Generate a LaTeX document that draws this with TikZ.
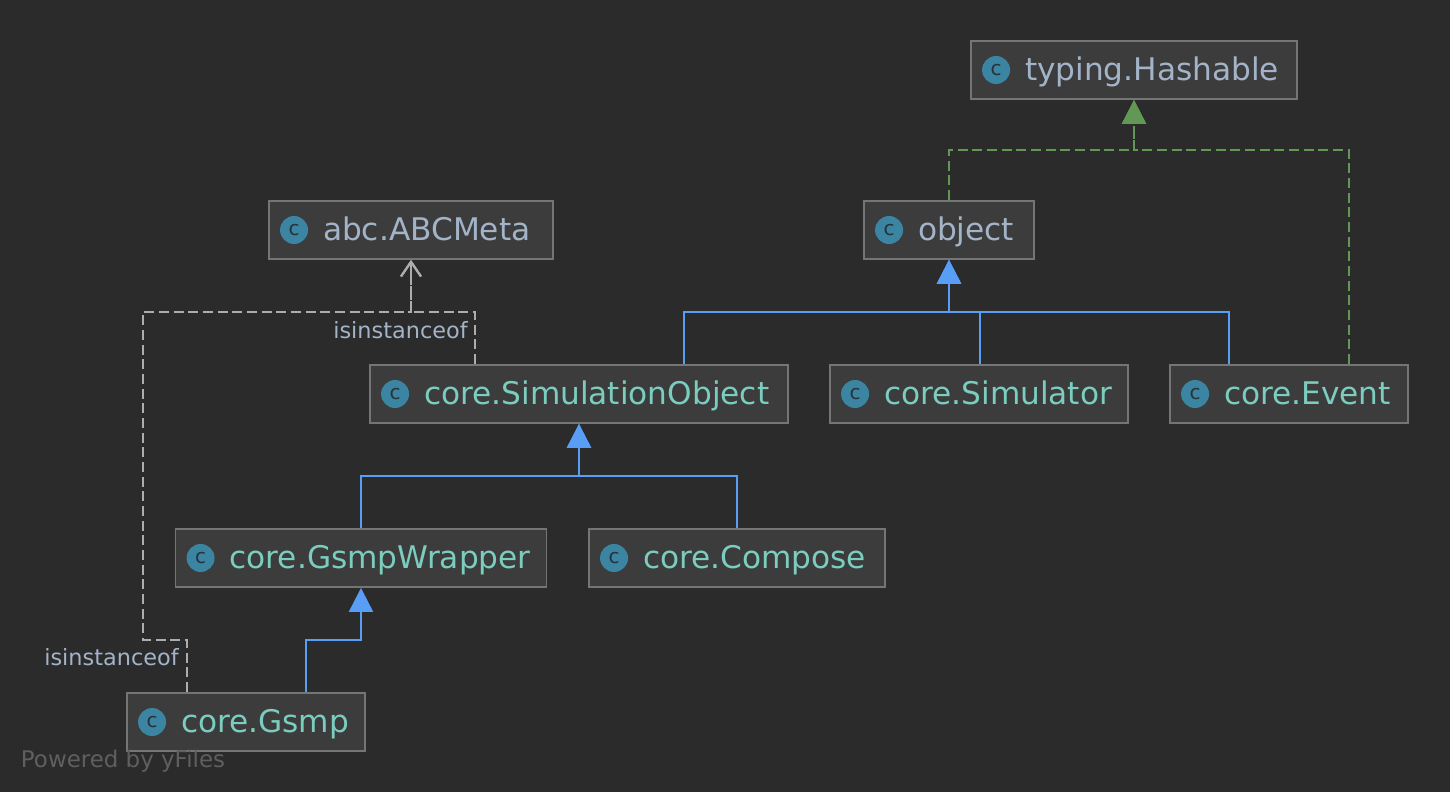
\documentclass[tikz,border=0pt]{standalone}
\usepackage{fontspec}
\setmainfont{DejaVu Sans}
\usepackage{xcolor}
\usetikzlibrary{positioning, arrows.meta}

\definecolor{canvas}{HTML}{2B2B2B}
\definecolor{boxfill}{HTML}{3C3C3C}
\definecolor{boxline}{HTML}{757575}
\definecolor{plainname}{HTML}{A3B3C8}
\definecolor{corename}{HTML}{7BCDBF}
\definecolor{iconblue}{HTML}{3B85A2}
\definecolor{iconletter}{HTML}{26333A}
\definecolor{inheritblue}{HTML}{589DF6}
\definecolor{implgreen}{HTML}{629755}
\definecolor{usegrey}{HTML}{ADADAD}
\definecolor{footgrey}{HTML}{5F5F5F}

\begin{document}
\begin{tikzpicture}[x=0.75pt, y=-0.75pt,
  main node/.style={rectangle,draw=boxline,fill=boxfill,line width=1.4pt,text=plainname,
    font=\fontsize{23.4}{27}\selectfont,inner xsep=0pt,inner ysep=0pt,minimum height=43.5pt,
    text width=#1,align=left,execute at begin node={\hspace*{40.5pt}\rule[-7.5pt]{0pt}{31pt}}},
  core node/.style={main node=#1,text=corename},
  icon node/.style={circle,fill=iconblue,text=iconletter,minimum size=21pt,inner sep=0pt,
    font=\fontsize{15}{15}\selectfont},
  inherit/.style={draw=inheritblue,line width=1.7pt,-{Triangle[length=18pt,width=18pt,fill=inheritblue]}},
  impl/.style={draw=implgreen,line width=1.6pt,dash pattern=on 7.5pt off 3.5pt,
    -{Triangle[length=18pt,width=18pt,fill=implgreen]}},
  use/.style={draw=usegrey,line width=1.6pt,dash pattern=on 7.5pt off 3.5pt,
    -{Straight Barb[length=11pt,width=15pt]}},
  edge label/.style={text=plainname,font=\fontsize{16.8}{20}\selectfont,inner sep=0pt}]

\fill[canvas] (0,0) rectangle (1450,792);
\useasboundingbox (0,0) rectangle (1450,792);

\node[main node=244.5pt] (hashable) at (1134,70) {typing.Hashable};
\node[main node=213pt] (abcmeta) at (411,230) {abc.ABCMeta};
\node[main node=127.5pt] (object) at (949,230) {object};
\node[core node=313.5pt] (simobject) at (579,394) {core.SimulationObject};
\node[core node=223.5pt] (simulator) at (979,394) {core.Simulator};
\node[core node=178.5pt] (event) at (1289,394) {core.Event};
\node[core node=278.25pt] (wrapper) at (361,558) {core.GsmpWrapper};
\node[core node=222pt] (compose) at (737,558) {core.Compose};
\node[core node=178.5pt] (gsmp) at (246,722) {core.Gsmp};

\node[icon node] (hashable icon) at ([xshift=19.5pt]hashable.west) {c};
\node[icon node] (abcmeta icon) at ([xshift=19.5pt]abcmeta.west) {c};
\node[icon node] (object icon) at ([xshift=19.5pt]object.west) {c};
\node[icon node] (simobject icon) at ([xshift=19.5pt]simobject.west) {c};
\node[icon node] (simulator icon) at ([xshift=19.5pt]simulator.west) {c};
\node[icon node] (event icon) at ([xshift=19.5pt]event.west) {c};
\node[icon node] (wrapper icon) at ([xshift=19.5pt]wrapper.west) {c};
\node[icon node] (compose icon) at ([xshift=19.5pt]compose.west) {c};
\node[icon node] (gsmp icon) at ([xshift=19.5pt]gsmp.west) {c};

\coordinate (hash join) at (1134,150);
\coordinate (object join) at (949,312);
\coordinate (sim join) at (579,476);
\coordinate (wrap join) at (361,640);
\coordinate (meta join) at (411,312);
\coordinate (gsmp bend) at (143,640);

\draw[impl] (object.north) |- (hash join) -- (hashable.south);
\draw[impl] ([xshift=45pt]event.north) |- (hash join) -- (hashable.south);

\draw[inherit] ([xshift=78.75pt]simobject.north) |- (object join) -- (object.south);
\draw[inherit] ([xshift=0.75pt]simulator.north) |- (object join) -- (object.south);
\draw[inherit] ([xshift=-45pt]event.north) |- (object join) -- (object.south);
\draw[inherit] (wrapper.north) |- (sim join) -- (simobject.south);
\draw[inherit] (compose.north) |- (sim join) -- (simobject.south);
\draw[inherit] ([xshift=45pt]gsmp.north) |- (wrap join) -- (wrapper.south);

\draw[use] ([xshift=-78pt]simobject.north) |- (meta join) -- (abcmeta.south);
\draw[use] ([xshift=-44.25pt]gsmp.north) |- (gsmp bend) |- (meta join) -- (abcmeta.south);

\node[edge label] (simobject label) at (400.5,330) {isinstanceof};
\node[edge label] (gsmp label) at (111.5,657) {isinstanceof};
\node[text=footgrey,font=\fontsize{17.2}{20}\selectfont,inner sep=0pt] (footer) at (123,761) {Powered by yFiles};

\end{tikzpicture}
\end{document}
